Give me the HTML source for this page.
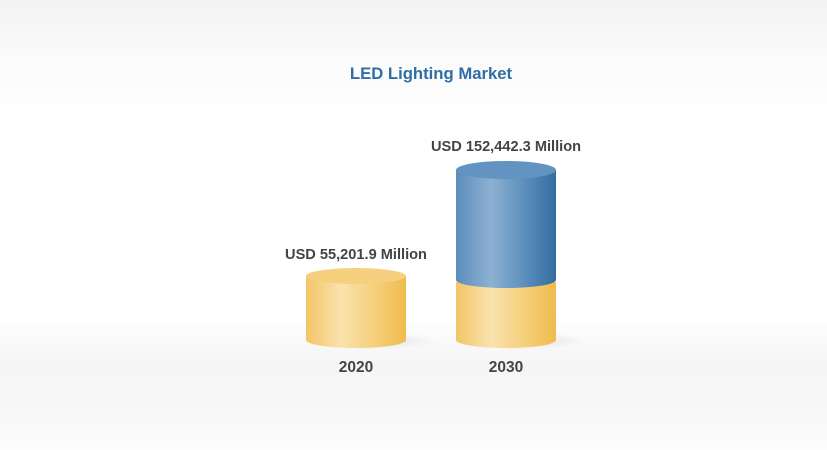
<!DOCTYPE html>
<html><head><style>
html,body{margin:0;padding:0;}
body{width:827px;height:450px;overflow:hidden;font-family:"Liberation Sans",Arial,sans-serif;
background:linear-gradient(to bottom,#f3f3f3 0px,#fbfbfb 60px,#ffffff 130px,#ffffff 315px,#f5f5f5 365px,#f8f8f8 420px,#fdfdfd 450px);}
svg{display:block}
</style></head><body>
<svg width="827" height="450" xmlns="http://www.w3.org/2000/svg">
<defs>
<linearGradient id="y" x1="0" x2="1"><stop offset="0" stop-color="#f2c567"/><stop offset="0.35" stop-color="#fae2ae"/><stop offset="0.7" stop-color="#f5cf78"/><stop offset="1" stop-color="#efbb4c"/></linearGradient>
<linearGradient id="b" x1="0" x2="1"><stop offset="0" stop-color="#5b8dbb"/><stop offset="0.35" stop-color="#8db1d2"/><stop offset="0.7" stop-color="#5a8dbc"/><stop offset="1" stop-color="#336d9f"/></linearGradient>
<radialGradient id="sh"><stop offset="0" stop-color="#ccc" stop-opacity="0.7"/><stop offset="1" stop-color="#ddd" stop-opacity="0"/></radialGradient>
</defs>
<text x="431" y="79" text-anchor="middle" font-size="16.7" font-weight="bold" fill="#2f6ea6">LED Lighting Market</text>
<ellipse cx="370" cy="341" rx="70" ry="9" fill="url(#sh)"/>
<ellipse cx="520" cy="341" rx="70" ry="9" fill="url(#sh)"/>
<path d="M306 276 V340 A50 8 0 0 0 406 340 V276 Z" fill="url(#y)"/>
<ellipse cx="356" cy="276" rx="50" ry="8" fill="#f5d07e"/>
<path d="M456 282 V340 A50 8 0 0 0 556 340 V282 Z" fill="url(#y)"/>
<path d="M456 170 V280 A50 8 0 0 0 556 280 V170 Z" fill="url(#b)"/>
<ellipse cx="506" cy="170" rx="50" ry="9" fill="#6393c0"/>
<text x="356" y="259" text-anchor="middle" font-size="14.6" font-weight="bold" fill="#444">USD 55,201.9 Million</text>
<text x="506" y="151" text-anchor="middle" font-size="14.6" font-weight="bold" fill="#444">USD 152,442.3 Million</text>
<text x="356" y="372" text-anchor="middle" font-size="15.5" font-weight="bold" fill="#444">2020</text>
<text x="506" y="372" text-anchor="middle" font-size="15.5" font-weight="bold" fill="#444">2030</text>
</svg>
</body></html>
